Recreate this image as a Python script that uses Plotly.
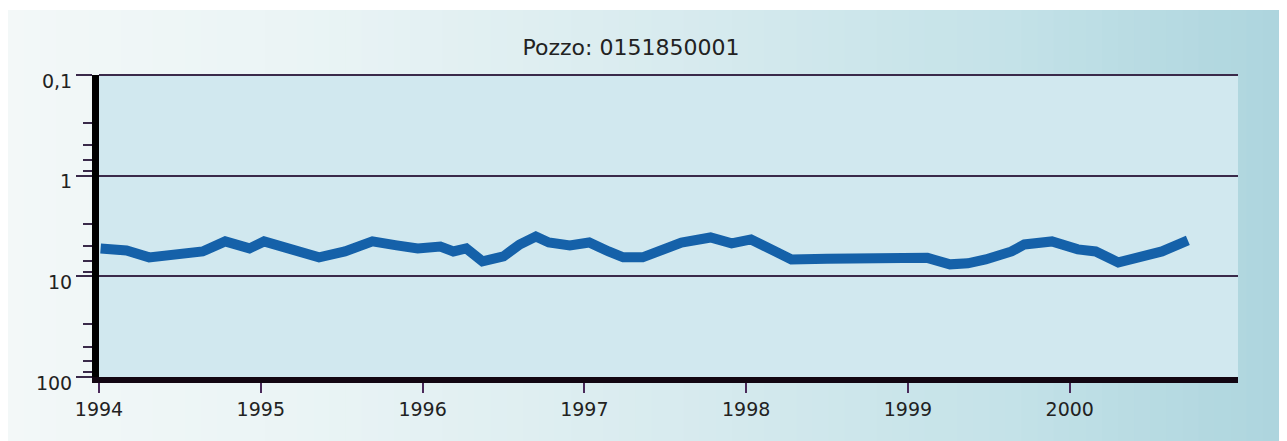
import plotly.graph_objects as go

# ---- data ----
years = [1994.01, 1994.08, 1994.17, 1994.31, 1994.47, 1994.64, 1994.78, 1994.93,
         1995.02, 1995.12, 1995.24, 1995.36, 1995.52, 1995.69, 1995.84, 1995.97,
         1996.11, 1996.19, 1996.27, 1996.37, 1996.50, 1996.60, 1996.70, 1996.78,
         1996.91, 1997.03, 1997.15, 1997.24, 1997.36, 1997.49, 1997.60, 1997.78,
         1997.91, 1998.03, 1998.15, 1998.28, 1998.50, 1998.80, 1999.12, 1999.26,
         1999.37, 1999.48, 1999.64, 1999.72, 1999.89, 2000.05, 2000.16, 2000.30,
         2000.42, 2000.57, 2000.73]
depth = [5.28, 5.28, 5.53, 6.48, 6.19, 5.66, 4.50, 5.28,
         4.50, 5.05, 5.79, 6.48, 5.66, 4.50, 4.93, 5.28,
         5.05, 5.66, 5.28, 7.10, 6.34, 4.82, 4.02, 4.61,
         4.93, 4.61, 5.66, 6.48, 6.48, 5.28, 4.61, 4.11,
         4.71, 4.30, 5.28, 6.79, 6.70, 6.70, 6.55, 7.60,
         7.43, 6.79, 5.66, 4.82, 4.50, 5.40, 5.66, 7.27,
         6.48, 5.66, 4.40]
x_ticks = [1994, 1995, 1996, 1997, 1998, 1999, 2000]
x_ticklabels = ["1994", "1995", "1996", "1997", "1998", "1999", "2000"]
y_ticks = [0.1, 1, 10, 100]
y_ticklabels = ["0,1", "1", "10", "100"]
y_minor = [0.3, 0.5, 0.7, 0.9, 3, 5, 7, 9, 30, 50, 70, 90]
title_text = "Pozzo: 0151850001"

# ---- geometry (figure coords; page adds 8px body margin) ----
W, H = 1287, 441
ML, MR, MT, MB = 91, 57, 67, 72
PW, PH = W - ML - MR, H - MT - MB


def px_x(p):
    return (p - ML) / PW


def px_y(p):
    return 1 - (p - MT) / PH


def lerp(c1, c2, t):
    return tuple(int(round(a + (b - a) * t)) for a, b in zip(c1, c2))


stops = [(0, (243, 248, 248)), (300, (234, 244, 245)), (700, (214, 234, 238)),
         (1000, (196, 226, 232)), (1287, (172, 212, 221))]

shapes = []
N = 80
for i in range(N):
    x0 = W * i / N
    x1 = W * (i + 1) / N + 1
    xm = (x0 + x1) / 2
    for (a, ca), (b, cb) in zip(stops[:-1], stops[1:]):
        if a <= xm <= b:
            c = lerp(ca, cb, (xm - a) / (b - a))
            break
    shapes.append(dict(type="rect", xref="paper", yref="paper", layer="below",
                       x0=px_x(x0), x1=px_x(x1), y0=px_y(H + 20), y1=px_y(2),
                       fillcolor="rgb(%d,%d,%d)" % c, line=dict(width=0)))
# plot area
shapes.append(dict(type="rect", xref="paper", yref="paper", layer="below",
                   x0=0, x1=1, y0=0, y1=1, fillcolor="#d1e8ef", line=dict(width=0)))
# top grid line (at range edge, which plotly does not draw)
shapes.append(dict(type="line", xref="paper", yref="paper", layer="below",
                   x0=0, x1=1, y0=1, y1=1, line=dict(color="#3a2a4a", width=2)))

fig = go.Figure()
fig.add_trace(go.Scatter(x=years, y=depth, mode="lines",
                         line=dict(color="#1561a9", width=10), hoverinfo="skip"))

font = dict(family="DejaVu Sans", size=19, color="#222222")

fig.update_layout(
    width=W, height=H,
    margin=dict(l=ML, r=MR, t=MT, b=MB, pad=0),
    paper_bgcolor="white",
    plot_bgcolor="rgba(0,0,0,0)",
    showlegend=False,
    shapes=shapes,
    title=dict(text=title_text, x=623 / W, xanchor="center", y=1 - 39 / H,
               yanchor="middle", font=dict(family="DejaVu Sans", size=22, color="#222222")),
    xaxis=dict(range=[1994, 2001.04], tickmode="array", tickvals=x_ticks,
               ticktext=x_ticklabels, showgrid=False, zeroline=False,
               showline=True, linecolor="#120612", linewidth=6,
               ticks="outside", ticklen=10, tickwidth=2, tickcolor="#4a2a5a",
               tickfont=font),
    yaxis=dict(type="log", range=[2, -1], tickmode="array", tickvals=y_ticks,
               ticktext=y_ticklabels, showgrid=True, gridcolor="#3a2a4a", gridwidth=2,
               zeroline=False, showline=True, linecolor="#000000", linewidth=7,
               ticks="outside", ticklen=16, tickwidth=2, tickcolor="#3a2a4a",
               tickfont=font, ticklabelshift=-6,
               minor=dict(tickmode="array", tickvals=y_minor, ticks="outside",
                          ticklen=9, tickwidth=2, tickcolor="#3a2a4a", showgrid=False)),
)

fig.write_html("out.html")
